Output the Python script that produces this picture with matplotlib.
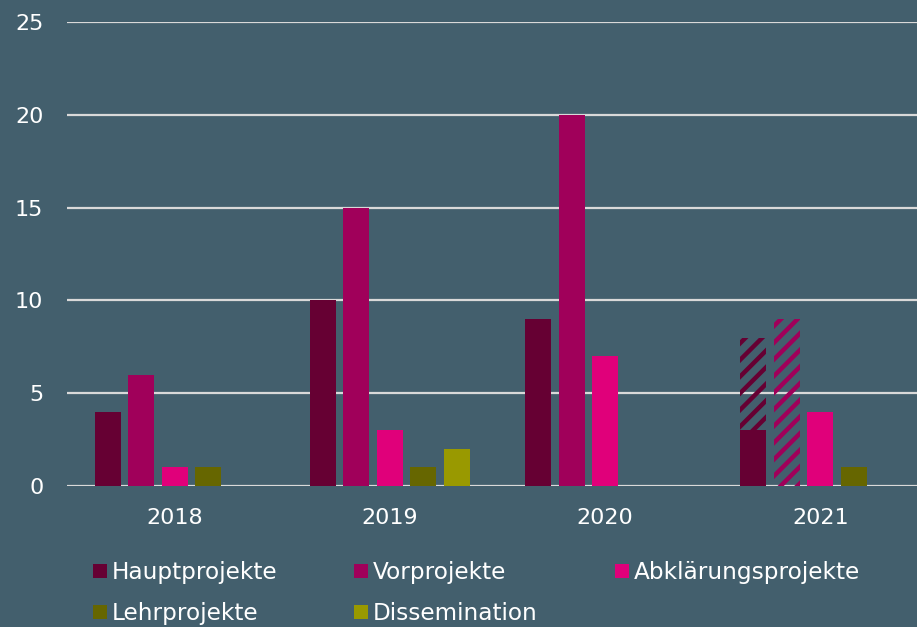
import matplotlib
matplotlib.use("Agg")
import matplotlib.pyplot as plt
from matplotlib.patches import Rectangle
import numpy as np

years = ["2018", "2019", "2020", "2021"]
series = ["Hauptprojekte", "Vorprojekte", "Abklärungsprojekte", "Lehrprojekte", "Dissemination"]
colors = ["#660033", "#A0005A", "#E0007A", "#666600", "#999900"]
values = {
    "Hauptprojekte":      [4, 10, 9, 3],
    "Vorprojekte":        [6, 15, 20, 0],
    "Abklärungsprojekte": [1, 3, 7, 4],
    "Lehrprojekte":       [1, 1, 0, 1],
    "Dissemination":      [0, 2, 0, 0],
}
# planned/ongoing (hatched) totals for 2021
hatched_totals = {
    "Hauptprojekte": [0, 0, 0, 8],
    "Vorprojekte":   [0, 0, 0, 9],
}
yticks = [0, 5, 10, 15, 20, 25]

bg = "#435F6D"
W, H = 917, 627
fig = plt.figure(figsize=(W/100, H/100), dpi=100, facecolor=bg)
plt.rcParams['hatch.linewidth'] = 3.2

left_px, right_px, bottom_px, top_px = 67, 928, 486, 22
ax = fig.add_axes([left_px/W, 1-bottom_px/H, (right_px-left_px)/W, (bottom_px-top_px)/H])
ax.set_facecolor(bg)
ax.set_xlim(-0.5, 3.5)
ax.set_ylim(0, 25)

x = np.arange(len(years))
slot = 0.1555
bw = 0.121
for i, name in enumerate(series):
    offs = (i - 2) * slot
    vals = values[name]
    ax.bar(x + offs, vals, width=bw, color=colors[i], zorder=3, linewidth=0)
    if name in hatched_totals:
        tot = np.array(hatched_totals[name])
        base = np.array(vals)
        h = np.where(tot > 0, tot - base, 0)
        ax.bar(x + offs, h, bottom=base, width=bw, facecolor="none",
               edgecolor=colors[i], hatch="//", linewidth=0, zorder=3)

ax.set_yticks(yticks)
ax.set_xticks(x)
ax.set_xticklabels(years)
ax.grid(axis='y', color="#D9D9D9", linewidth=1.6, zorder=1)
for s in ax.spines.values():
    s.set_visible(False)
ax.tick_params(axis='both', length=0, colors="white", labelsize=16)
ax.tick_params(axis='y', pad=17)
ax.tick_params(axis='x', pad=16)
for lab in ax.get_yticklabels() + ax.get_xticklabels():
    lab.set_family("DejaVu Sans")

# legend
col_x = [93, 354, 615]
row_base = [579, 620]
for i, name in enumerate(series):
    lx = col_x[i % 3]
    base = row_base[i // 3]
    sq = 14
    fig.patches.append(Rectangle((lx/W, 1 - (base - 1)/H), sq/W, sq/H,
                                 transform=fig.transFigure, facecolor=colors[i],
                                 edgecolor="none"))
    fig.text((lx + 19)/W, 1 - base/H, name, color="white", fontsize=16.7,
             family="DejaVu Sans", va="baseline", ha="left")

fig.savefig("out.png", dpi=100, facecolor=bg)
